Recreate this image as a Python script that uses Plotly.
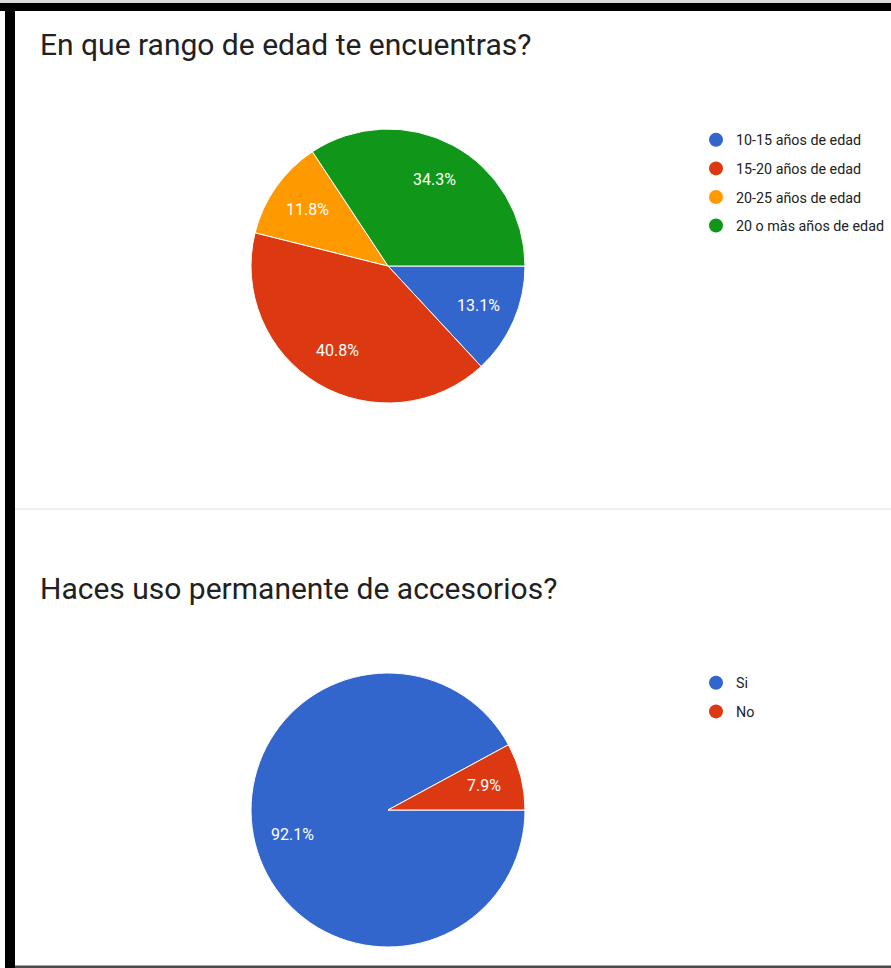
import math
import plotly.graph_objects as go

W, H = 891, 968

title1 = "En que rango de edad te encuentras?"
labels1 = ["10-15 años de edad", "15-20 años de edad", "20-25 años de edad", "20 o màs años de edad"]
values1 = [13.1, 40.8, 11.8, 34.3]
colors1 = ["#3366cc", "#dc3912", "#ff9900", "#109618"]

title2 = "Haces uso permanente de accesorios?"
labels2 = ["Si", "No"]
values2 = [92.1, 7.9]
colors2 = ["#3366cc", "#dc3912"]

FONT = "Roboto, Arial, sans-serif"

# pie geometry (pixels): centre and radius
CX, R = 388, 137
CY1, CY2 = 266, 810
LABEL_K = 0.72  # label distance as fraction of radius

fig = go.Figure()


def dom(cy):
    return dict(x=[(CX - R) / W, (CX + R) / W], y=[1 - (cy + R) / H, 1 - (cy - R) / H])


def add_pie(labels, values, colors, cy):
    fig.add_trace(go.Pie(
        labels=labels, values=values, sort=False, direction="clockwise", rotation=90,
        marker=dict(colors=colors, line=dict(color="white", width=1)),
        textinfo="none", domain=dom(cy), showlegend=False,
        hoverinfo="label+percent",
    ))


def pie_label_annotations(values, cy):
    total = sum(values)
    cum = 0.0
    anns = []
    for v in values:
        mid = (cum + v / 2) / total * 2 * math.pi
        cum += v
        anns.append(dict(
            text=f"{v / total * 100:.1f}%", x=CX + LABEL_K * R * math.cos(mid),
            y=cy + LABEL_K * R * math.sin(mid), xref="x", yref="y",
            xanchor="center", yanchor="middle", showarrow=False,
            font=dict(family=FONT, size=16, color="white")))
    return anns


add_pie(labels1, values1, colors1, CY1)
add_pie(labels2, values2, colors2, CY2)

for lab, col in zip(labels1, colors1):
    fig.add_trace(go.Scatter(x=[None], y=[None], mode="markers", name=lab,
                             marker=dict(color=col, size=14, symbol="circle"),
                             legend="legend", legendgroup=lab))
for lab, col in zip(labels2, colors2):
    fig.add_trace(go.Scatter(x=[None], y=[None], mode="markers", name=lab,
                             marker=dict(color=col, size=14, symbol="circle"),
                             legend="legend2", legendgroup="b" + lab))

shapes = [
    dict(type="rect", x0=0, x1=W, y0=0, y1=3, fillcolor="#dcdcdc", line_width=0),
    dict(type="rect", x0=0, x1=W, y0=3, y1=11, fillcolor="black", line_width=0),
    dict(type="rect", x0=5, x1=15, y0=3, y1=H, fillcolor="black", line_width=0),
    dict(type="rect", x0=15, x1=W, y0=508, y1=510, fillcolor="#efefef", line_width=0),
    dict(type="rect", x0=15, x1=W, y0=965.5, y1=968, fillcolor="#4a4a4a", line_width=0),
]
for s in shapes:
    s.update(xref="x", yref="y", layer="above")

annotations = [
    dict(text=title1, x=38, y=44, xref="x", yref="y", xanchor="left", yanchor="middle",
         showarrow=False, font=dict(family=FONT, size=30, color="#212121")),
    dict(text=title2, x=38, y=588, xref="x", yref="y", xanchor="left", yanchor="middle",
         showarrow=False, font=dict(family=FONT, size=30, color="#212121")),
]
annotations += pie_label_annotations(values1, CY1)
annotations += pie_label_annotations(values2, CY2)

legfont = dict(family=FONT, size=14.3, color="#222222")
fig.update_layout(
    width=W, height=H,
    margin=dict(l=0, r=0, t=0, b=0, autoexpand=False),
    paper_bgcolor="white", plot_bgcolor="white",
    xaxis=dict(range=[0, W], visible=False, domain=[0, 1], fixedrange=True),
    yaxis=dict(range=[H, 0], visible=False, domain=[0, 1], fixedrange=True),
    shapes=shapes, annotations=annotations,
    legend=dict(x=696 / W, y=1 - 124 / H, xanchor="left", yanchor="top", font=legfont,
                tracegroupgap=7, itemsizing="trace", bgcolor="rgba(0,0,0,0)"),
    legend2=dict(x=696 / W, y=1 - 667 / H, xanchor="left", yanchor="top", font=legfont,
                 tracegroupgap=7, itemsizing="trace", bgcolor="rgba(0,0,0,0)"),
)

fig.write_html("out.html")
